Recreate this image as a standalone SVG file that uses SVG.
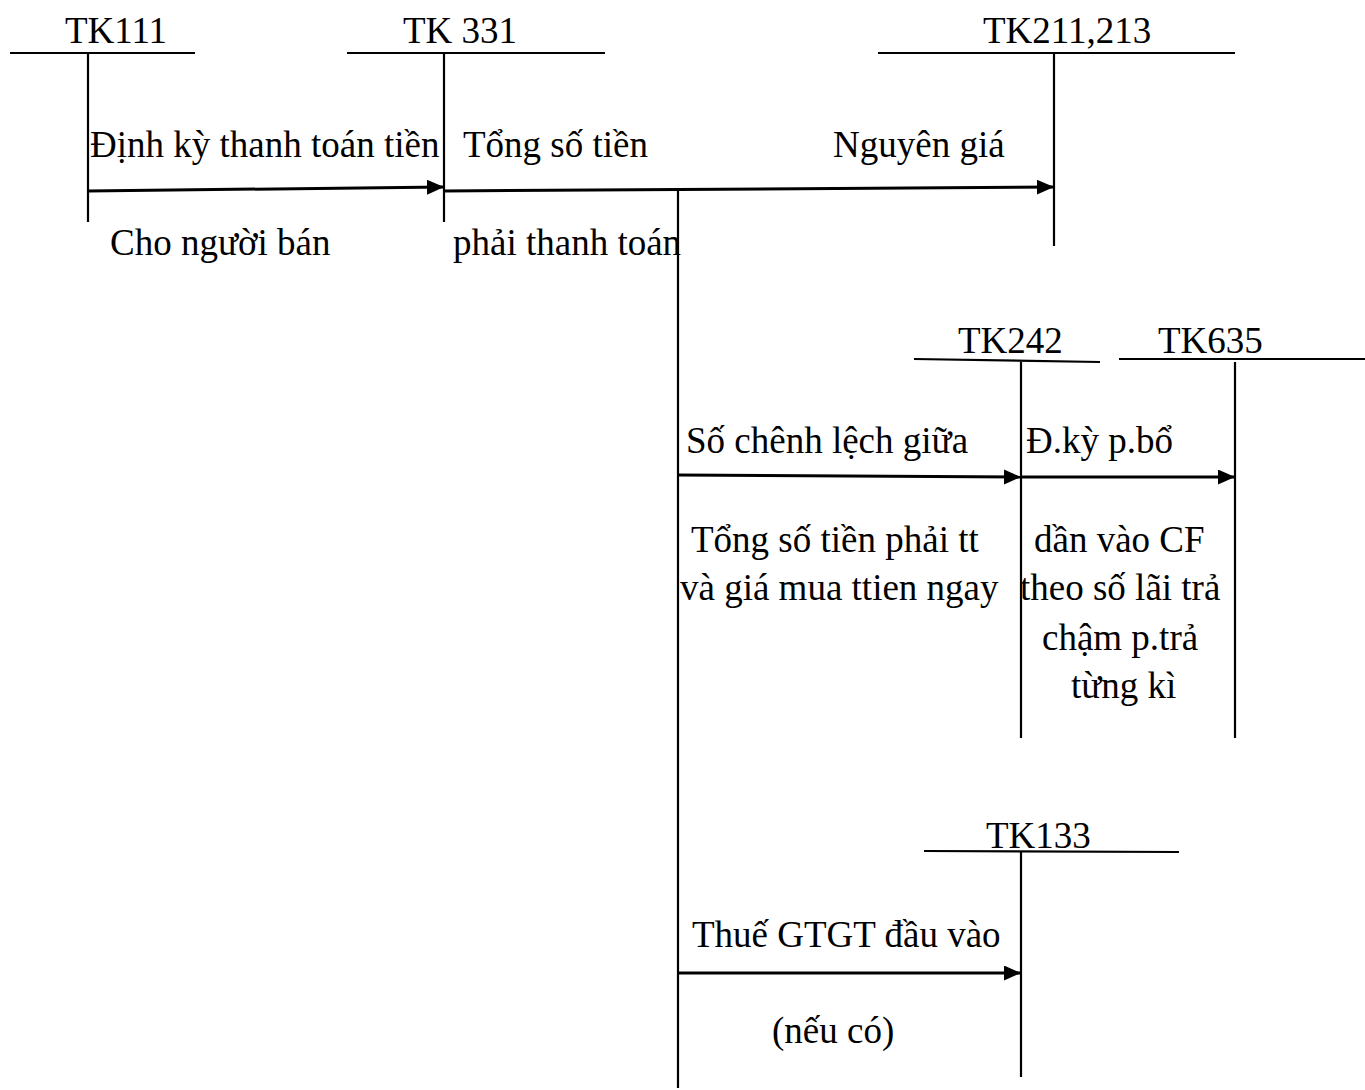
<svg xmlns="http://www.w3.org/2000/svg" width="1365" height="1090" viewBox="0 0 1365 1090">
  <style>
    text { font-family: "Liberation Serif", "Times New Roman", serif; font-size: 37px; fill: #000; }
    .acct line { stroke: #000; stroke-width: 2.2; }
    .flow line { stroke: #000; stroke-width: 3; }
  </style>
  <defs>
    <marker id="arrow" markerUnits="userSpaceOnUse" markerWidth="18" markerHeight="17" refX="17" refY="7.5" orient="auto">
      <path d="M0,0 L17,7.5 L0,15 Z" fill="#000"/>
    </marker>
  </defs>
  <rect width="1365" height="1090" fill="#fff"/>

  <!-- T-accounts -->
  <g id="tk111" class="acct">
    <text x="65" y="43">TK111</text>
    <line x1="10" y1="53" x2="195" y2="53"/>
    <line x1="88" y1="53" x2="88" y2="222"/>
  </g>
  <g id="tk331" class="acct">
    <text x="403" y="43">TK 331</text>
    <line x1="347" y1="53" x2="605" y2="53"/>
    <line x1="444" y1="53" x2="444" y2="222"/>
  </g>
  <g id="tk211" class="acct">
    <text x="983" y="43">TK211,213</text>
    <line x1="878" y1="53" x2="1235" y2="53"/>
    <line x1="1054" y1="53" x2="1054" y2="246"/>
  </g>
  <g id="tk242" class="acct">
    <text x="958" y="353">TK242</text>
    <line x1="914" y1="359" x2="1100" y2="362"/>
    <line x1="1021" y1="362" x2="1021" y2="738"/>
  </g>
  <g id="tk635" class="acct">
    <text x="1158" y="353">TK635</text>
    <line x1="1119" y1="359" x2="1365" y2="359"/>
    <line x1="1235" y1="362" x2="1235" y2="738"/>
  </g>
  <g id="tk133" class="acct">
    <text x="986" y="848">TK133</text>
    <line x1="924" y1="851" x2="1179" y2="852"/>
    <line x1="1021" y1="852" x2="1021" y2="1077"/>
  </g>

  <!-- Connectors -->
  <g id="connectors" class="flow">
    <line x1="88" y1="191" x2="444" y2="187" marker-end="url(#arrow)"/>
    <line x1="444" y1="191" x2="1054" y2="187" marker-end="url(#arrow)"/>
    <line x1="678" y1="190" x2="678" y2="1088" style="stroke-width:2.2"/>
    <line x1="678" y1="475" x2="1021" y2="477" marker-end="url(#arrow)"/>
    <line x1="1021" y1="477" x2="1235" y2="477" marker-end="url(#arrow)"/>
    <line x1="678" y1="973" x2="1021" y2="973" marker-end="url(#arrow)"/>
  </g>

  <!-- Labels -->
  <g id="labels">
    <text x="90" y="157">Định kỳ thanh toán tiền</text>
    <text x="110" y="255">Cho người bán</text>
    <text x="463" y="157">Tổng số tiền</text>
    <text x="453" y="255">phải thanh toán</text>
    <text x="833" y="157">Nguyên giá</text>
    <text x="686" y="453">Số chênh lệch giữa</text>
    <text x="691" y="552">Tổng số tiền phải tt</text>
    <text x="680" y="600">và giá mua ttien ngay</text>
    <text x="1026" y="453">Đ.kỳ p.bổ</text>
    <text x="1034" y="552">dần vào CF</text>
    <text x="1020" y="600">theo số lãi trả</text>
    <text x="1042" y="650">chậm p.trả</text>
    <text x="1071" y="698">từng kì</text>
    <text x="692" y="947">Thuế GTGT đầu vào</text>
    <text x="772" y="1043">(nếu có)</text>
  </g>
</svg>
